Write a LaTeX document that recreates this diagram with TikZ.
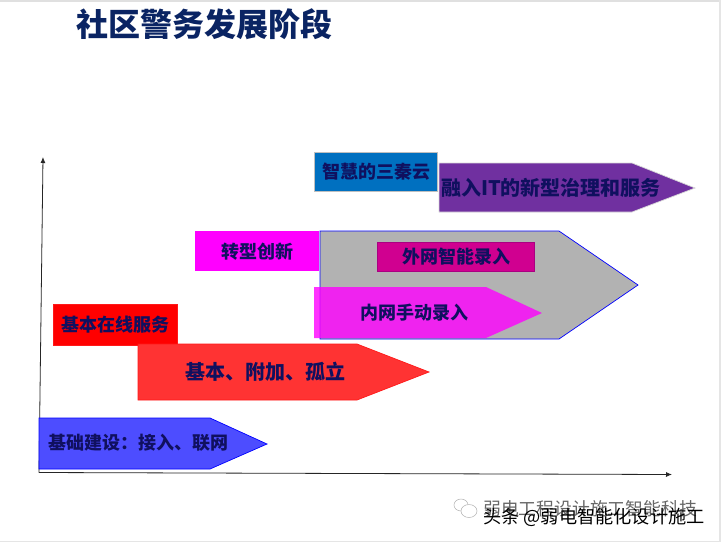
\documentclass[tikz,border=0pt]{standalone}
\usepackage{fontspec}
\setmainfont{Noto Sans CJK SC}
\newfontfamily\cjkb{Noto Sans CJK SC}
\usetikzlibrary{arrows.meta}
\definecolor{ink}{HTML}{10105F}
\definecolor{titleink}{HTML}{0A2463}
\definecolor{bluefill}{HTML}{4D4DFF}
\definecolor{redfill}{HTML}{FF3333}
\definecolor{grayfill}{HTML}{B2B2B2}
\definecolor{magbox}{HTML}{FF00FF}
\definecolor{webfill}{HTML}{D00090}
\definecolor{webedge}{HTML}{AA0082}
\definecolor{cloudfill}{HTML}{0070C0}
\definecolor{purplefill}{HTML}{7030A0}
\tikzset{
  x=1pt,y=-1pt,
  lab/.style={font=\cjkb\bfseries\fontsize{18}{20}\selectfont,text=ink,inner sep=0pt,anchor=center},
  labbig/.style={lab,font=\cjkb\bfseries\fontsize{20}{22}\selectfont},
  shapeedge/.style={line width=0.7pt,line join=miter},
  axisline/.style={line width=0.8pt,black!85,-{Latex[length=6pt,width=5pt]}},
  wmtop/.style={font=\cjkb\fontsize{17.8}{20}\selectfont,inner sep=0pt,anchor=west,text=black!60},
  wmlow/.style={font=\cjkb\fontsize{18.2}{21}\selectfont,inner sep=0pt,anchor=west,text=black}
}
\begin{document}
\begin{tikzpicture}
\path[use as bounding box,fill=white] (0,0) rectangle (721,542);
\fill[black!12] (0,0) rectangle (721,1.6);
\fill[black!10] (718.5,0) rectangle (721,542);
\fill[black!10] (0,540.5) rectangle (721,542);
% title
\node[font=\cjkb\bfseries\fontsize{32}{34}\selectfont,text=titleink,inner sep=0pt,anchor=center] (title) at (204.5,24.5) {社区警务发展阶段};
% axes
\coordinate (origin) at (39,472.5);
\coordinate (xend) at (672,474.5);
\coordinate (yend) at (43,157);
\draw[axisline] (origin) -- (yend);
\draw[axisline] (origin) -- (xend);
% blue arrow
\draw[shapeedge,draw=blue,fill=bluefill] (39,418) -- (210,418) -- (267,444) -- (210,469) -- (39,469) -- cycle;
\node[lab] (a1) at (138.5,443) {基础建设^^^^ff1a接入、联网};
% red box + arrow
\draw[shapeedge,draw=red!90!white,fill=red] (53.5,304.5) rectangle (177,345);
\node[lab] (b0) at (115.5,325) {基本在线服务};
\draw[shapeedge,draw=red!90!white,fill=redfill] (138,344) -- (357,344) -- (429,372) -- (357,400) -- (138,400) -- cycle;
\node[labbig] (b1) at (265.5,372) {基本、附加、孤立};
% gray arrow
\draw[shapeedge,draw=blue,fill=grayfill] (320,231) -- (559,231) -- (638,285) -- (559,339) -- (320,339) -- cycle;
% magenta box
\fill[magbox] (195,231) rectangle (319,271);
\node[lab] (c0) at (257.5,252) {转型创新};
% web box
\draw[shapeedge,draw=webedge,fill=webfill] (377,242) rectangle (534.5,271);
\node[lab] (c1) at (456,257) {外网智能录入};
% manual arrow
\fill[magbox,opacity=0.8] (314,287) -- (486,287) -- (542,313) -- (486,338) -- (314,338) -- cycle;
\node[lab] (c2) at (414.5,313) {内网手动录入};
% cloud box + arrow
\draw[shapeedge,draw=black!25,fill=cloudfill] (314.5,152) rectangle (437.5,191.5);
\node[lab] (d0) at (376,172) {智慧的三秦云};
\draw[shapeedge,draw=black!15,fill=purplefill] (439,163) -- (632,163) -- (695,188) -- (632,212) -- (439,212) -- cycle;
\node[labbig] (d1) at (551,188) {融入IT的新型治理和服务};
% watermark
\draw[black!30,fill=white,line width=0.5pt] (461,505) ellipse (7 and 6);
\draw[black!30,fill=white,line width=0.5pt] (469,511) ellipse (8 and 6.5);
\node[wmtop] (w2) at (483,509) {弱电工程设计施工智能科技};
\node[wmlow] (w1) at (483,517) {头条 @弱电智能化设计施工};
\end{tikzpicture}
\end{document}
